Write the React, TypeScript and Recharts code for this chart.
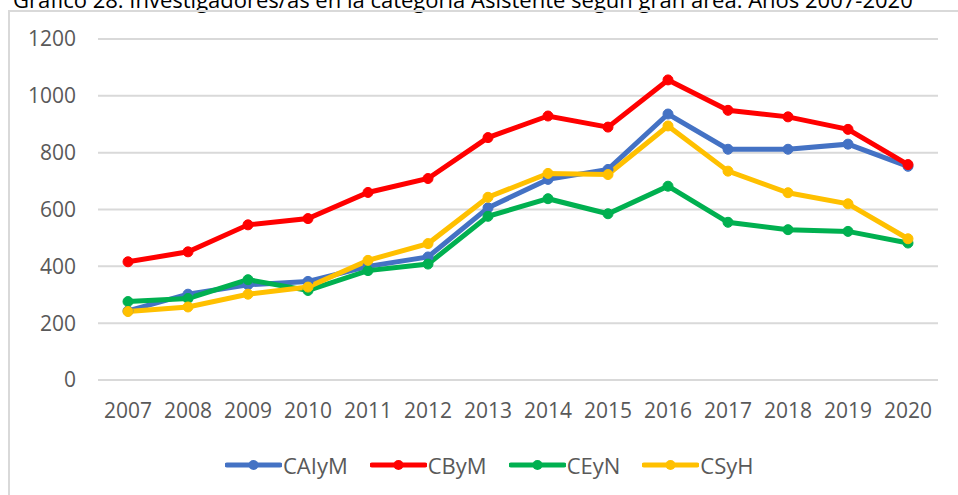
import React from "react";
import {
  LineChart,
  Line,
  XAxis,
  YAxis,
  CartesianGrid,
  Legend,
} from "recharts";

const years = ["2007", "2008", "2009", "2010", "2011", "2012", "2013", "2014", "2015", "2016", "2017", "2018", "2019", "2020"];
const caiym = [243, 302, 335, 347, 400, 433, 606, 706, 741, 936, 812, 812, 830, 752];
const cbym = [416, 451, 546, 568, 660, 709, 853, 929, 890, 1056, 949, 926, 882, 758];
const ceyn = [276, 287, 353, 315, 385, 408, 576, 638, 585, 682, 555, 529, 523, 482];
const csyh = [241, 257, 302, 327, 421, 480, 643, 727, 723, 894, 735, 659, 620, 497];
const yTicks = [0, 200, 400, 600, 800, 1000, 1200];

const series = [
  { key: "CAIyM", color: "#4472C4" },
  { key: "CByM", color: "#FF0000" },
  { key: "CEyN", color: "#00B050" },
  { key: "CSyH", color: "#FFC000" },
];

const data = years.map((year, i) => ({
  year,
  CAIyM: caiym[i],
  CByM: cbym[i],
  CEyN: ceyn[i],
  CSyH: csyh[i],
}));

const FONT = "'Open Sans', sans-serif";
const TEXT = "#595959";

const renderLegend = (props: any) => {
  const items = props.payload && props.payload.length
    ? props.payload.map((p: any) => ({ key: p.value, color: p.color }))
    : series;
  return (
    <div
      style={{
        height: 30,
        display: "flex",
        justifyContent: "flex-start",
        alignItems: "center",
        fontFamily: FONT,
        fontSize: 22,
        color: TEXT,
        paddingLeft: 225,
      }}
    >
      {items.map((it: any) => (
        <div key={it.key} style={{ display: "flex", alignItems: "center", marginRight: 22 }}>
          <svg width={57} height={14}>
            <line x1={2} y1={7} x2={55} y2={7} stroke={it.color} strokeWidth={5} strokeLinecap="round" />
            <circle cx={28.5} cy={7} r={5} fill={it.color} />
          </svg>
          <span style={{ marginLeft: 1 }}>{it.key}</span>
        </div>
      ))}
    </div>
  );
};

const App = () => {
  return (
    <div
      style={{
        position: "absolute",
        left: 0,
        top: 0,
        width: 958,
        height: 495,
        overflow: "hidden",
        background: "#fff",
      }}
    >
      <div
        style={{
          position: "absolute",
          left: 13,
          top: -14,
          whiteSpace: "nowrap",
          fontFamily: FONT,
          fontSize: 22,
          lineHeight: "26px",
          color: "#000",
        }}
      >
        Gráfico 28. Investigadores/as en la categoría Asistente según gran área. Años 2007-2020
      </div>
      <div
        style={{
          position: "absolute",
          left: 8,
          top: 10,
          width: 980,
          height: 520,
          border: "2px solid #D9D9D9",
          boxSizing: "border-box",
        }}
      />
      <div style={{ position: "absolute", left: 0, top: 0 }}>
        <LineChart
          width={958}
          height={495}
          data={data}
          margin={{ top: 39, right: 20, left: 0, bottom: 15 }}
        >
          <CartesianGrid vertical={false} stroke="#D9D9D9" strokeWidth={2} />
          <XAxis
            dataKey="year"
            axisLine={false}
            tickLine={false}
            tickSize={0}
            tickMargin={23}
            height={70}
            padding={{ left: 30, right: 30 }}
            interval={0}
            tick={{ fontSize: 21, fill: TEXT, fontFamily: FONT }}
          />
          <YAxis
            domain={[0, 1200]}
            ticks={yTicks}
            axisLine={false}
            tickLine={false}
            tickSize={0}
            tickMargin={22}
            width={98}
            tick={{ fontSize: 21, fill: TEXT, fontFamily: FONT }}
          />
          <Legend verticalAlign="bottom" content={renderLegend} />
          {series.map((s) => (
            <Line
              key={s.key}
              type="linear"
              dataKey={s.key}
              stroke={s.color}
              strokeWidth={5}
              dot={{ r: 5, fill: s.color, stroke: s.color, strokeWidth: 1 }}
              isAnimationActive={false}
            />
          ))}
        </LineChart>
      </div>
    </div>
  );
};

export default App;
